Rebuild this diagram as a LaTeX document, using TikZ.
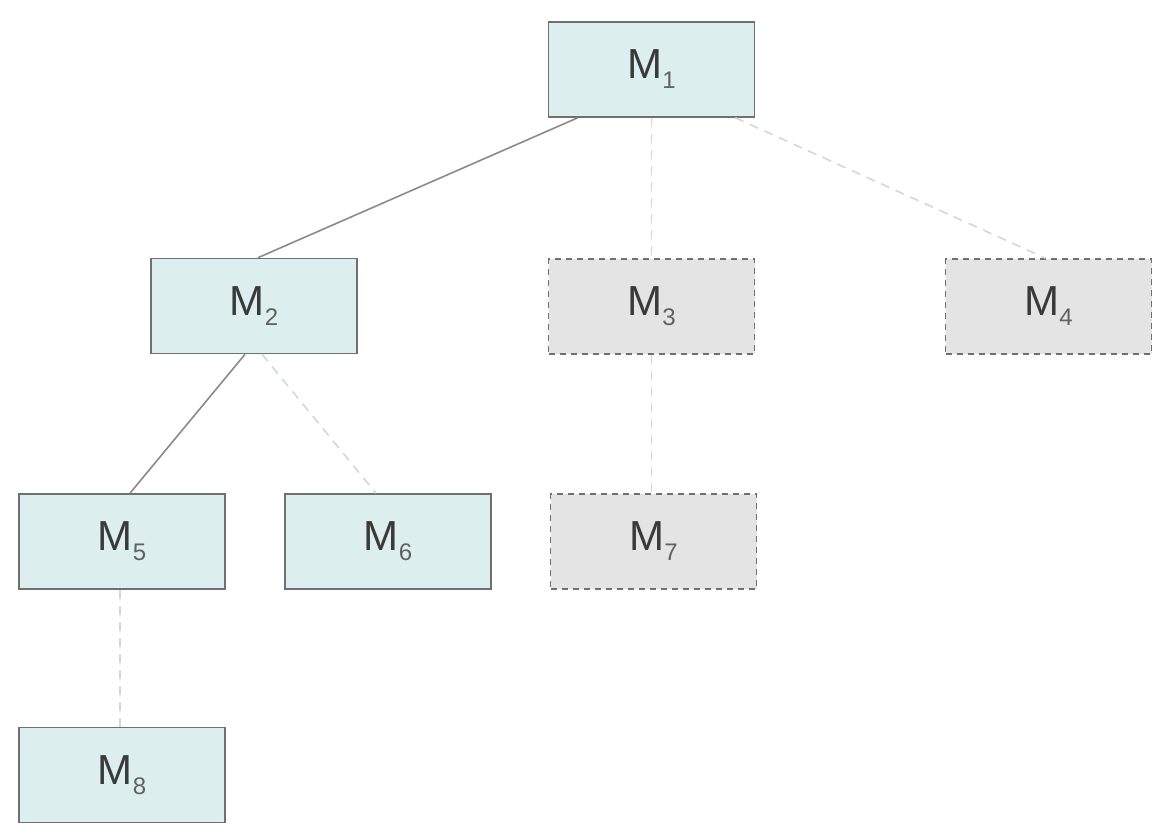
\documentclass[tikz,border=0pt]{standalone}
\usepackage{fontspec}
\setmainfont{Liberation Sans}
\usetikzlibrary{calc}
\definecolor{tealfill}{HTML}{DDEEEE}
\definecolor{grayfill}{HTML}{E4E4E4}
\definecolor{boxline}{HTML}{707070}
\definecolor{txt}{HTML}{3A3A3A}
\definecolor{solidedge}{HTML}{8A8A8A}
\definecolor{dashedge}{HTML}{D0D8D8}
\newcommand{\mlabel}[1]{M\raisebox{-10pt}{\fontsize{24}{24}\selectfont\color{txt!80}#1}}
\tikzset{
  mbox/.style={draw=boxline, line width=1.6pt, fill=tealfill, minimum width=206pt, minimum height=95pt, inner sep=0pt, text=txt, font=\fontsize{42}{48}\selectfont},
  gbox/.style={mbox, fill=grayfill, dashed, dash pattern=on 6pt off 5pt},
  solidlink/.style={draw=solidedge, line width=1.6pt},
  dashlink/.style={draw=dashedge, line width=1.6pt, dash pattern=on 9pt off 7pt},
}
\begin{document}
\begin{tikzpicture}[x=1pt,y=-1pt]
\useasboundingbox (0,0) rectangle (1170,840);
\node[mbox] (m1) at (651.5,69.5) {\mlabel{1}};
\node[mbox] (m2) at (254,306) {\mlabel{2}};
\node[gbox] (m3) at (651.5,306.5) {\mlabel{3}};
\node[gbox] (m4) at (1048.5,306.5) {\mlabel{4}};
\node[mbox] (m5) at (122,541.5) {\mlabel{5}};
\node[mbox] (m6) at (388,541.5) {\mlabel{6}};
\node[gbox] (m7) at (653.5,541.5) {\mlabel{7}};
\node[mbox] (m8) at (122,775) {\mlabel{8}};
\draw[solidlink] ($(m1.south west)+(30,0)$) -- ($(m2.north)+(4,0)$);
\draw[dashlink] (m1.south) -- (m3.north);
\draw[dashlink] ($(m1.south east)+(-20,0)$) -- ($(m4.north)+(-3,0)$);
\draw[solidlink] ($(m2.south)+(-9,0)$) -- ($(m5.north)+(8,0)$);
\draw[dashlink] ($(m2.south)+(8,0)$) -- ($(m6.north)+(-12,0)$);
\draw[dashlink] (m3.south) -- ($(m7.north)+(-2,0)$);
\draw[dashlink] ($(m5.south)+(-2,0)$) -- ($(m8.north)+(-2,0)$);
\end{tikzpicture}
\end{document}
